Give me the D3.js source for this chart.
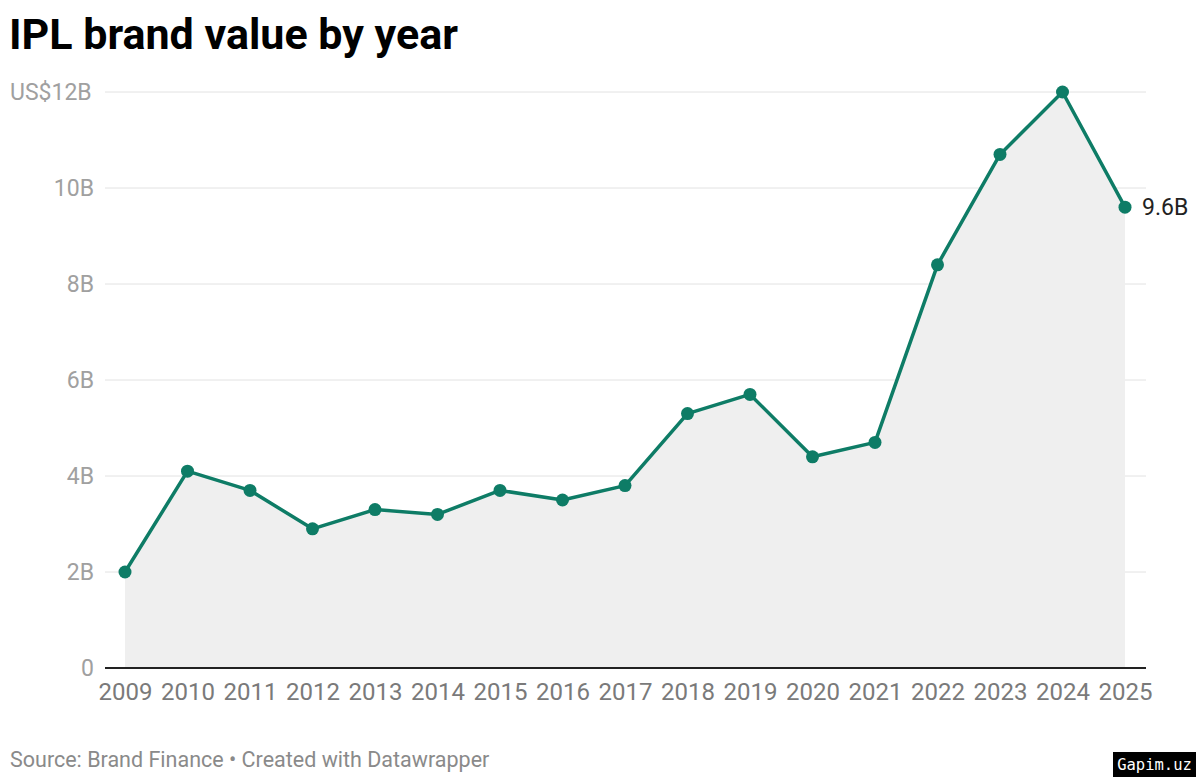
<!DOCTYPE html>
<html>
<head>
<meta charset="utf-8">
<script src="https://cdn.jsdelivr.net/npm/d3@7"></script>
<style>
  body { margin: 0; background: #fff; }
  svg { font-family: Roboto, sans-serif; display: block; }
</style>
</head>
<body>
<div id="chart"></div>
<script>
const years = [2009, 2010, 2011, 2012, 2013, 2014, 2015, 2016, 2017, 2018, 2019, 2020, 2021, 2022, 2023, 2024, 2025];
const values = [2.0, 4.1, 3.7, 2.9, 3.3, 3.2, 3.7, 3.5, 3.8, 5.3, 5.7, 4.4, 4.7, 8.4, 10.7, 12.0, 9.6];
const yTicks = [0, 2, 4, 6, 8, 10, 12];
const yTickLabels = ['0', '2B', '4B', '6B', '8B', '10B', 'US$12B'];

const width = 1200, height = 782;
const color = '#0e7c66';

const svg = d3.select('#chart').append('svg')
  .attr('width', width)
  .attr('height', height);

const x = d3.scaleLinear().domain([2009, 2025]).range([125, 1125]);
const y = d3.scaleLinear().domain([0, 12]).range([668, 92]);

const data = years.map((yr, i) => ({ year: yr, value: values[i] }));

// title
svg.append('text')
  .attr('x', 9).attr('y', 49)
  .style('font-size', '43px').style('font-weight', 700).style('fill', '#000')
  .text('IPL brand value by year');

// gridlines + y labels
yTicks.forEach((t, i) => {
  const lbl = yTickLabels[i];
  svg.append('text')
    .attr('x', lbl.startsWith('US') ? 10 : 94)
    .attr('y', y(t) + 8)
    .attr('text-anchor', lbl.startsWith('US') ? 'start' : 'end')
    .style('font-size', '23px').style('fill', '#a0a0a0')
    .text(lbl);
  if (t > 0) {
    svg.append('line')
      .attr('x1', 105).attr('x2', 1146)
      .attr('y1', y(t)).attr('y2', y(t))
      .style('stroke', '#e2e2e2').style('stroke-width', 1);
  }
});

// area
const area = d3.area()
  .x(d => x(d.year))
  .y0(y(0))
  .y1(d => y(d.value));

svg.append('path')
  .datum(data)
  .attr('d', area)
  .style('fill', '#efefef');

// baseline
svg.append('line')
  .attr('x1', 105).attr('x2', 1146)
  .attr('y1', y(0)).attr('y2', y(0))
  .style('stroke', '#222').style('stroke-width', 2);

// x labels
const xAxis = d3.axisBottom(x)
  .tickValues(years)
  .tickFormat(d3.format('d'))
  .tickSize(0)
  .tickPadding(15);

const gx = svg.append('g')
  .attr('transform', `translate(0,${y(0)})`)
  .call(xAxis);
gx.select('.domain').remove();
gx.selectAll('text')
  .style('font-size', '24px')
  .style('font-family', 'Roboto, sans-serif')
  .style('fill', '#7a7a7a');

// line
const line = d3.line()
  .x(d => x(d.year))
  .y(d => y(d.value));

svg.append('path')
  .datum(data)
  .attr('d', line)
  .style('fill', 'none')
  .style('stroke', color)
  .style('stroke-width', 3.5)
  .style('stroke-linejoin', 'round');

svg.selectAll('.dot')
  .data(data)
  .enter()
  .append('circle')
  .attr('class', 'dot')
  .attr('cx', d => x(d.year))
  .attr('cy', d => y(d.value))
  .attr('r', 6.5)
  .style('fill', color);

// end label
const last = data[data.length - 1];
svg.append('text')
  .attr('x', x(last.year) + 17)
  .attr('y', y(last.value) + 8)
  .style('font-size', '23px').style('fill', '#222')
  .text(last.value.toFixed(1) + 'B');

// footer
svg.append('text')
  .attr('x', 10).attr('y', 767)
  .style('font-size', '21.5px').style('fill', '#8a8a8a')
  .text('Source: Brand Finance \u2022 Created with Datawrapper');

// watermark
svg.append('rect')
  .attr('x', 1113).attr('y', 752)
  .attr('width', 83).attr('height', 25)
  .style('fill', '#000');
svg.append('text')
  .attr('x', 1154.5).attr('y', 770)
  .attr('text-anchor', 'middle')
  .style('font-family', '"DejaVu Sans Mono", monospace')
  .style('font-size', '15.5px').style('fill', '#fff')
  .text('Gapim.uz');
</script>
</body>
</html>
